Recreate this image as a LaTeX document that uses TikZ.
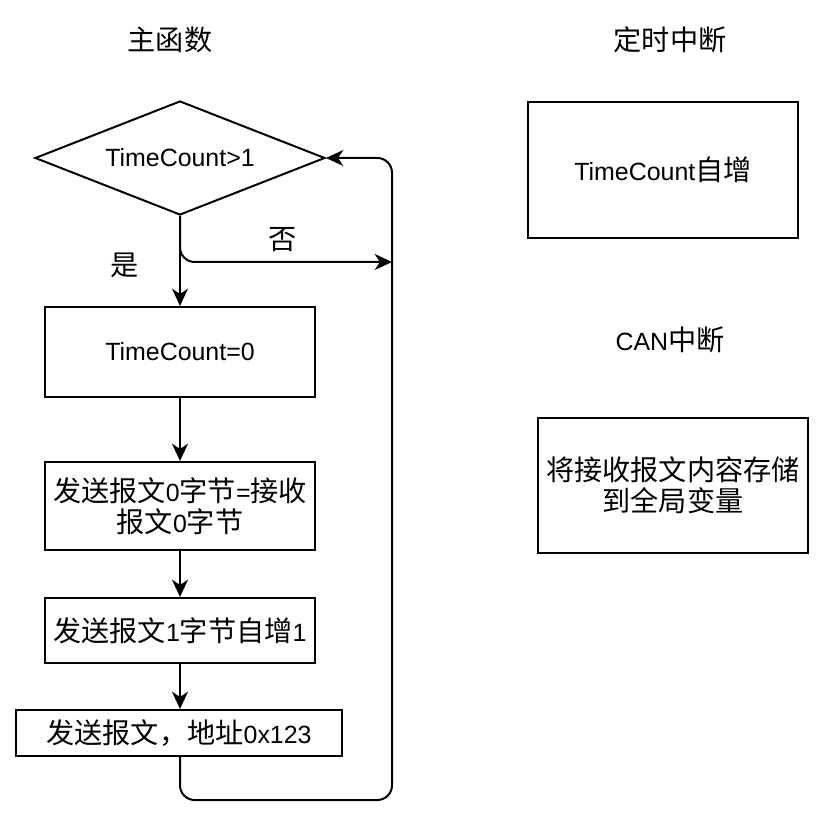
\documentclass[tikz,border=0pt]{standalone}
\usepackage{fontspec}
\setmainfont{Liberation Sans}
\newfontfamily\cjk[Scale=1.13]{Noto Sans CJK SC}
\usetikzlibrary{positioning, shapes.geometric, arrows.meta}
\newcommand{\zh}[1]{{\cjk #1}}

\begin{document}
\begin{tikzpicture}[
  x=0.75pt, y=-0.75pt,
  font=\fontsize{18.7}{23}\selectfont,
  box/.style={rectangle, draw, line width=1.5pt, inner sep=0pt, minimum width=202.5pt, align=center},
  decision/.style={diamond, draw, line width=1.5pt, inner sep=0pt, aspect=2.54, minimum width=217.5pt, minimum height=85.5pt},
  arr/.style={-{Stealth[length=13pt, width=12pt, inset=4pt]}, line width=1.5pt, rounded corners=11pt},
  note/.style={inner sep=0pt}
]
  \useasboundingbox (0,0) rectangle (822,813);

  % Titles
  \node[note] (mainfn) at (170,40) {\zh{主函数}};
  \node[note] (timerisr) at (670,40) {\zh{定时中断}};
  \node[note] (canisr) at (670,340) {CAN\zh{中断}};

  % Main loop
  \node[decision] (cond) at (180,158) {TimeCount>1};
  \node[box, minimum height=67.5pt] (reset) at (180,352) {TimeCount=0};
  \node[box, minimum height=66pt] (copy) at (180,506) {\zh{发送报文}0\zh{字节}=\zh{接收}\\\zh{报文}0\zh{字节}};
  \node[box, minimum height=48.75pt] (incr) at (180,630.5) {\zh{发送报文}1\zh{字节自增}1};
  \node[box, minimum width=244.5pt, minimum height=34.5pt] (send) at (179,733) {\zh{发送报文，地址}0x123};
  \coordinate (join) at (392,262);
  \coordinate (loopbot) at (392,800);

  \draw[arr] (cond.south) -- (reset.north);
  \draw[arr] (cond.south) |- (join);
  \draw[arr] (reset) -- (copy);
  \draw[arr] (copy) -- (incr);
  \draw[arr] (incr.south) -- (incr.south |- send.north);
  \draw[arr] (incr.south |- send.south) |- (loopbot) -- (join) |- (cond.east);

  \node[note] (yes) at (125,265) {\zh{是}};
  \node[note] (no) at (283,240) {\zh{否}};

  % Interrupts
  \node[box, minimum height=102pt] (tick) at (663,170) {TimeCount\zh{自增}};
  \node[box, minimum height=101.25pt] (store) at (673,485.5) {\zh{将接收报文内容存储}\\\zh{到全局变量}};
\end{tikzpicture}
\end{document}
